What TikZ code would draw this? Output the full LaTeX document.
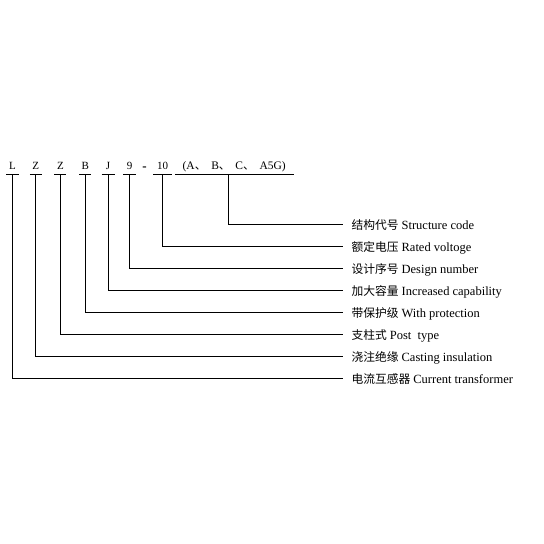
\documentclass[tikz,border=0pt]{standalone}
\usepackage{fontspec}
\setmainfont{Liberation Serif}
\newfontfamily\cjk{Noto Sans CJK SC}
\usetikzlibrary{calc}
\newcommand{\zh}[1]{{\cjk\fontsize{11.75}{13}\selectfont #1}}
\newcommand{\dun}{{\cjk 、}\hspace{5pt}}
\begin{document}
\begin{tikzpicture}[x=1pt,y=-1pt,
  codebox/.style={anchor=base,font=\fontsize{11}{13}\selectfont,inner xsep=0pt,inner ysep=5.5pt,text depth=0pt},
  lbl/.style={anchor=west,font=\fontsize{12.5}{14}\selectfont,inner xsep=8pt,inner ysep=0pt,text height=10pt,text depth=0pt},
  ln/.style={line width=0.9pt,black}]
\useasboundingbox (0,0) rectangle (544,544);
% code row
\node[codebox,minimum width=11.7pt] (cL)  at (12.5,169) {L};
\node[codebox,minimum width=11.7pt] (cZa) at (35.8,169) {Z};
\node[codebox,minimum width=11.7pt] (cZb) at (60.4,169) {Z};
\node[codebox,minimum width=11.7pt] (cB)  at (85.2,169) {B};
\node[codebox,minimum width=12.6pt] (cJ)  at (108,169) {J};
\node[codebox,minimum width=12.4pt] (c9)  at (129.5,169) {9};
\node[inner sep=0pt,font=\fontsize{13}{13}\selectfont\bfseries] (dash) at (144.5,168.8) {-};
\node[codebox,minimum width=18.4pt] (c10) at (162.5,169) {10};
\node[codebox,minimum width=118.3pt,font=\fontsize{11.5}{13}\selectfont] (cS) at (234.2,169) {(A\dun B\dun C\dun A5G)};
\foreach \n in {cL,cZa,cZb,cB,cJ,c9,c10,cS}
  \draw[ln] (\n.south west) -- (\n.south east);
% labels
\node[lbl] (t1) at (343.3,224.5) {\zh{结构代号} Structure code};
\node[lbl] (t2) at (343.3,246.8) {\zh{额定电压} Rated voltoge};
\node[lbl] (t3) at (343.3,268.8) {\zh{设计序号} Design number};
\node[lbl] (t4) at (343.3,290.5) {\zh{加大容量} Increased capability};
\node[lbl] (t5) at (343.3,312.3) {\zh{带保护级} With protection};
\node[lbl] (t6) at (343.3,334.3) {\zh{支柱式} Post\ \ type};
\node[lbl] (t7) at (343.3,356.3) {\zh{浇注绝缘} Casting insulation};
\node[lbl] (t8) at (343.3,378.3) {\zh{电流互感器} Current transformer};
% connectors
\draw[ln] ($(cS.south west)!0.45!(cS.south east)$) |- (t1.west);
\draw[ln] (c10.south) |- (t2.west);
\draw[ln] (c9.south) |- (t3.west);
\draw[ln] (cJ.south) |- (t4.west);
\draw[ln] (cB.south) |- (t5.west);
\draw[ln] (cZb.south) |- (t6.west);
\draw[ln] (cZa.south) |- (t7.west);
\draw[ln] (cL.south) |- (t8.west);
\end{tikzpicture}
\end{document}
